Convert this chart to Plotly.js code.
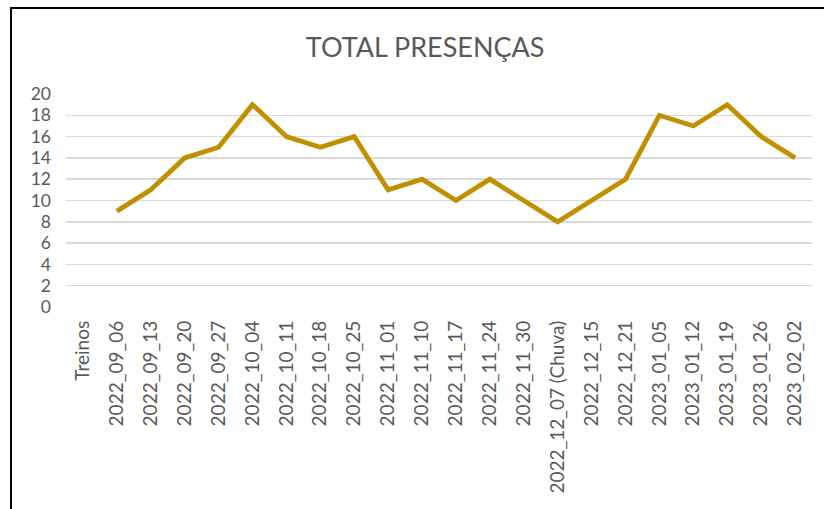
<!DOCTYPE html>
<html>
<head>
<meta charset="utf-8">
<script src="https://cdn.plot.ly/plotly-3.0.1.min.js"></script>
<style>
  html, body { margin: 0; padding: 0; background: #ffffff; }
  #wrap { position: absolute; left: 0; top: 0; width: 824px; height: 509px; }
  #frame { position: absolute; left: 10px; top: 7px; width: 830px; height: 520px;
           border-left: 2.5px solid #000; border-top: 2.5px solid #000; pointer-events: none; }
  #chart { position: absolute; left: 0; top: 0; width: 824px; height: 509px; }
</style>
</head>
<body>
<div id="wrap">
  <div id="chart"></div>
  <div id="frame"></div>
</div>
<script>
const categories = ["Treinos", "2022_09_06", "2022_09_13", "2022_09_20", "2022_09_27", "2022_10_04",
  "2022_10_11", "2022_10_18", "2022_10_25", "2022_11_01", "2022_11_10", "2022_11_17",
  "2022_11_24", "2022_11_30", "2022_12_07 (Chuva)", "2022_12_15", "2022_12_21",
  "2023_01_05", "2023_01_12", "2023_01_19", "2023_01_26", "2023_02_02"];
const presencas = [null, 9, 11, 14, 15, 19, 16, 15, 16, 11, 12, 10, 12, 10, 8, 10, 12, 18, 17, 19, 16, 14];
const yTicks = [0, 2, 4, 6, 8, 10, 12, 14, 16, 18, 20];
const chartTitle = "TOTAL PRESENÇAS";

const font = "Lato, 'Open Sans', sans-serif";
const trace = {
  type: "scatter",
  mode: "lines",
  x: categories,
  y: presencas,
  line: { color: "#BF9000", width: 4.8, shape: "linear" },
  connectgaps: false,
  hoverinfo: "x+y"
};

const layout = {
  width: 824, height: 509,
  paper_bgcolor: "#ffffff", plot_bgcolor: "#ffffff",
  margin: { l: 66, r: 12, t: 94, b: 202 },
  showlegend: false,
  title: { text: chartTitle, x: 0.516, xanchor: "center", y: 0.907, yanchor: "middle",
           font: { family: font, size: 27, color: "#595959" } },
  xaxis: {
    type: "category",
    categoryorder: "array", categoryarray: categories,
    range: [-0.5, categories.length - 0.5],
    tickangle: -90,
    showgrid: false, zeroline: false, showline: false,
    ticks: "", ticklabelstandoff: 9,
    tickfont: { family: font, size: 19, color: "#595959" }
  },
  yaxis: {
    range: [0, 20],
    tickmode: "array", tickvals: yTicks, ticktext: yTicks.map(String),
    showgrid: true, gridcolor: "#D9D9D9", gridwidth: 1.5,
    zeroline: false, showline: false, ticks: "",
    ticklabelstandoff: 14,
    tickfont: { family: font, size: 17.5, color: "#595959" }
  }
};

Plotly.newPlot("chart", [trace], layout, { displayModeBar: false, staticPlot: true });
</script>
</body>
</html>
